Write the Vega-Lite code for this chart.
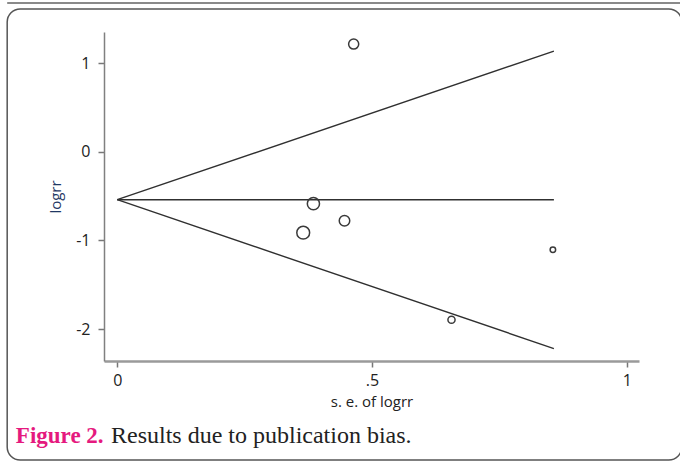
{
  "$schema": "https://vega.github.io/schema/vega-lite/v6.json",
  "autosize": {"type": "none"},
  "padding": {"left": 104, "top": 32, "right": 41, "bottom": 102},
  "width": 535,
  "height": 329,
  "background": "white",
  "config": {
    "view": {"stroke": null},
    "font": "Open Sans"
  },
  "datasets": {
    "studies": [
      {"se": 0.385, "logrr": -0.586, "weight": 6.75},
      {"se": 0.365, "logrr": -0.913, "weight": 7.5},
      {"se": 0.446, "logrr": -0.778, "weight": 5.03},
      {"se": 0.464, "logrr": 1.214, "weight": 4.64},
      {"se": 0.656, "logrr": -1.895, "weight": 2.32},
      {"se": 0.855, "logrr": -1.105, "weight": 1.37}
    ],
    "limits": [
      {"line": "upper", "se": 0, "logrr": -0.541},
      {"line": "upper", "se": 0.857, "logrr": 1.135},
      {"line": "pooled", "se": 0, "logrr": -0.541},
      {"line": "pooled", "se": 0.857, "logrr": -0.541},
      {"line": "lower", "se": 0, "logrr": -0.541},
      {"line": "lower", "se": 0.857, "logrr": -2.22}
    ],
    "single": [{}]
  },
  "layer": [
    {
      "data": {"name": "single"},
      "mark": {"type": "rect", "filled": false, "fill": null, "stroke": "#555555", "strokeWidth": 1.5, "cornerRadius": 13, "clip": false},
      "encoding": {
        "x": {"datum": -0.216, "type": "quantitative", "scale": {"domain": [-0.026, 1.024]}},
        "x2": {"datum": 1.108},
        "y": {"datum": 1.609, "type": "quantitative", "scale": {"domain": [-2.36, 1.35]}},
        "y2": {"datum": -3.476}
      }
    },
    {
      "data": {"name": "single"},
      "mark": {"type": "rule", "stroke": "#8a8a8a", "strokeWidth": 2, "clip": false},
      "encoding": {
        "x": {"datum": -0.216, "type": "quantitative"},
        "x2": {"datum": 1.11},
        "y": {"datum": 1.677, "type": "quantitative"}
      }
    },
    {
      "data": {"name": "limits"},
      "mark": {"type": "line", "stroke": "#303030", "strokeWidth": 1.4},
      "encoding": {
        "x": {
          "field": "se", "type": "quantitative",
          "scale": {"domain": [-0.026, 1.024], "nice": false, "zero": false},
          "axis": {
            "values": [0, 0.5, 1],
            "labelExpr": "datum.value == 0.5 ? '.5' : '' + datum.value",
            "title": "s. e. of logrr",
            "grid": false,
            "domainColor": "#9a9a9a", "domainWidth": 2.5,
            "tickColor": "#777777", "tickWidth": 1.5, "tickSize": 6,
            "labelFont": "Open Sans", "labelFontSize": 16, "labelColor": "#222222", "labelPadding": 5,
            "titleFont": "Open Sans", "titleFontSize": 15, "titleFontWeight": "normal", "titleColor": "#222222", "titlePadding": 6
          }
        },
        "y": {
          "field": "logrr", "type": "quantitative",
          "scale": {"domain": [-2.36, 1.35], "nice": false, "zero": false},
          "axis": {
            "values": [-2, -1, 0, 1],
            "labelExpr": "datum.value < 0 ? '-' + abs(datum.value) : '' + datum.value",
            "title": "logrr",
            "grid": false,
            "domainColor": "#808080", "domainWidth": 1.5,
            "tickColor": "#777777", "tickWidth": 1.5, "tickSize": 6,
            "labelFont": "Open Sans", "labelFontSize": 16, "labelColor": "#222222", "labelPadding": 8,
            "titleFont": "Open Sans", "titleFontSize": 15, "titleFontWeight": "normal", "titleColor": "#1f3864", "titlePadding": 12
          }
        },
        "detail": {"field": "line"}
      }
    },
    {
      "data": {"name": "studies"},
      "mark": {"type": "point", "shape": "circle", "filled": false, "stroke": "#3a3a3a", "strokeWidth": 1.5, "opacity": 1},
      "encoding": {
        "x": {"field": "se", "type": "quantitative"},
        "y": {"field": "logrr", "type": "quantitative"},
        "size": {"field": "weight", "type": "quantitative", "scale": {"domain": [0, 7.5], "range": [0, 165], "zero": true}, "legend": null}
      }
    },
    {
      "data": {"name": "single"},
      "mark": {"type": "text", "text": "Figure 2.", "font": "Liberation Serif", "fontSize": 23, "fontWeight": "bold", "color": "#e5197e", "align": "left", "baseline": "alphabetic", "clip": false},
      "encoding": {
        "x": {"datum": -0.199, "type": "quantitative"},
        "y": {"datum": -3.285, "type": "quantitative"}
      }
    },
    {
      "data": {"name": "single"},
      "mark": {"type": "text", "text": "Results due to publication bias.", "font": "Liberation Serif", "fontSize": 24, "color": "#222222", "align": "left", "baseline": "alphabetic", "clip": false},
      "encoding": {
        "x": {"datum": -0.0123, "type": "quantitative"},
        "y": {"datum": -3.285, "type": "quantitative"}
      }
    }
  ]
}
